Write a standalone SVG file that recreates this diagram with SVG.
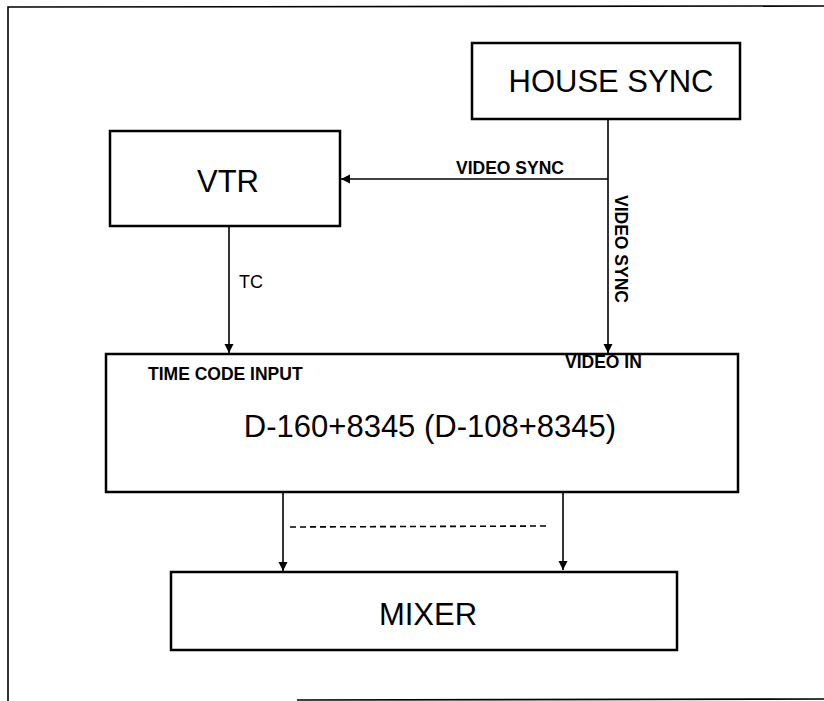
<svg xmlns="http://www.w3.org/2000/svg" width="824" height="701" viewBox="0 0 824 701">
<defs>
<style>
.box{fill:#fff;stroke:#000;stroke-width:2.5}
.ln{fill:none;stroke:#000;stroke-width:1.6}
.big{font-family:"Liberation Sans",Arial,sans-serif;font-size:31px;fill:#000}
.sm{font-family:"Liberation Sans",Arial,sans-serif;font-size:17.5px;font-weight:bold;fill:#000}
.tc{font-family:"Liberation Sans",Arial,sans-serif;font-size:18px;fill:#000}
</style>
<marker id="ah" viewBox="0 0 10 10" refX="10" refY="5" markerWidth="9" markerHeight="10" markerUnits="userSpaceOnUse" orient="auto">
<path d="M0,0 L10,5 L0,10 Z" fill="#000"/>
</marker>
</defs>
<rect width="824" height="701" fill="#fff"/>
<g id="frame">
<path d="M824,6 L8,7 L8,701" class="ln" stroke-width="2"/>
<path d="M297,700 L824,699" class="ln" stroke-width="2"/>
</g>
<g id="house-sync">
<rect x="472" y="43" width="268" height="76" class="box"/>
<text x="611" y="92" class="big" text-anchor="middle">HOUSE SYNC</text>
</g>
<g id="vtr">
<rect x="110" y="131" width="230" height="95" class="box"/>
<text x="228" y="192" class="big" text-anchor="middle">VTR</text>
</g>
<g id="main-unit">
<rect x="106" y="354" width="632" height="138" class="box"/>
<text x="148" y="380" class="sm">TIME CODE INPUT</text>
<text x="565" y="368" class="sm">VIDEO IN</text>
<text x="430" y="437" class="big" text-anchor="middle">D-160+8345 (D-108+8345)</text>
</g>
<g id="mixer">
<rect x="171" y="572" width="506" height="78" class="box"/>
<text x="428" y="625" class="big" text-anchor="middle">MIXER</text>
</g>
<g id="connectors">
<path d="M608,119 L608,353" class="ln" marker-end="url(#ah)"/>
<path d="M608,179 L341,179" class="ln" marker-end="url(#ah)"/>
<path d="M229,226 L229,353" class="ln" marker-end="url(#ah)"/>
<path d="M283,492 L283,571" class="ln" marker-end="url(#ah)"/>
<path d="M563,491 L563,570" class="ln" marker-end="url(#ah)"/>
<path d="M290,527 L548,526" class="ln" stroke-width="1.4" stroke-dasharray="6,4"/>
<text x="456" y="174" class="sm">VIDEO SYNC</text>
<text transform="translate(615,195) rotate(90)" x="0" y="0" class="sm">VIDEO SYNC</text>
<text x="239" y="288" class="tc">TC</text>
</g>
</svg>
